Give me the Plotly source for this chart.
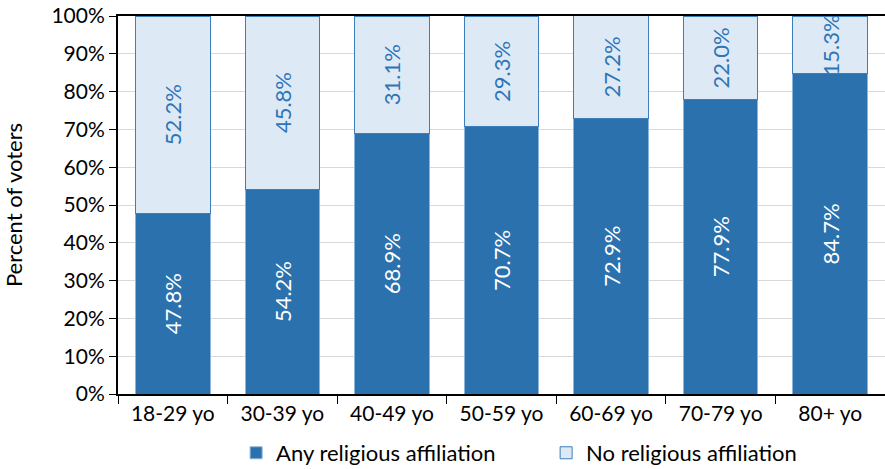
import plotly.graph_objects as go

# data
age_groups = ["18-29 yo", "30-39 yo", "40-49 yo", "50-59 yo", "60-69 yo", "70-79 yo", "80+ yo"]
any_religion = [47.8, 54.2, 68.9, 70.7, 72.9, 77.9, 84.7]
no_religion = [52.2, 45.8, 31.1, 29.3, 27.2, 22.0, 15.3]
y_ticks = [0, 10, 20, 30, 40, 50, 60, 70, 80, 90, 100]

DARK = "#2A71AE"
LIGHT = "#DDEAF6"
FONT = "Lato"

fig = go.Figure()
fig.add_trace(go.Bar(
    x=age_groups, y=any_religion, name="Any religious affiliation",
    marker=dict(color=DARK, line=dict(color="#8DB4DC", width=1)),
    text=[f"{v:.1f}%" for v in any_religion],
    textposition="inside", insidetextanchor="middle", textangle=-90,
    constraintext="none",
    textfont=dict(color="white", size=22, family=FONT),
    width=0.68,
))
fig.add_trace(go.Bar(
    x=age_groups, y=no_religion, name="No religious affiliation",
    marker=dict(color=LIGHT, line=dict(color="#3C7DBA", width=1)),
    text=[f"{v:.1f}%" for v in no_religion],
    textposition="inside", insidetextanchor="middle", textangle=-90,
    constraintext="none",
    textfont=dict(color="#2E75B6", size=22, family=FONT),
    width=0.68,
))

fig.update_layout(
    barmode="stack",
    width=885, height=469,
    margin=dict(l=118, r=0, t=16, b=75, autoexpand=False),
    plot_bgcolor="white", paper_bgcolor="white",
    font=dict(family=FONT, size=21, color="black"),
    legend=dict(orientation="h", x=0.154, xanchor="left", y=-0.156, yanchor="middle",
                font=dict(size=22), traceorder="normal", itemwidth=30,
                entrywidth=265, entrywidthmode="pixels"),
    showlegend=True,
)
fig.update_xaxes(
    showline=True, linecolor="black", linewidth=2, mirror=True,
    ticks="outside", tickson="boundaries", ticklen=8, tickcolor="black",
    tickfont=dict(size=21), range=[-0.5, 6.5], automargin=False,
)
fig.update_yaxes(
    range=[0, 100], tickvals=y_ticks, ticktext=[f"{t}%" for t in y_ticks],
    showline=True, linecolor="black", linewidth=2,
    ticks="outside", ticklen=7, tickcolor="black",
    showgrid=True, gridcolor="#D9D9D9", gridwidth=1,
    title=dict(text="Percent of voters", font=dict(size=22), standoff=34),
    tickfont=dict(size=21), automargin=False,
)

# drop the default 8px body margin so the figure sits flush in the window
fig.write_html("out.html", config={"displayModeBar": False},
               post_script="document.body.style.margin='0';")
